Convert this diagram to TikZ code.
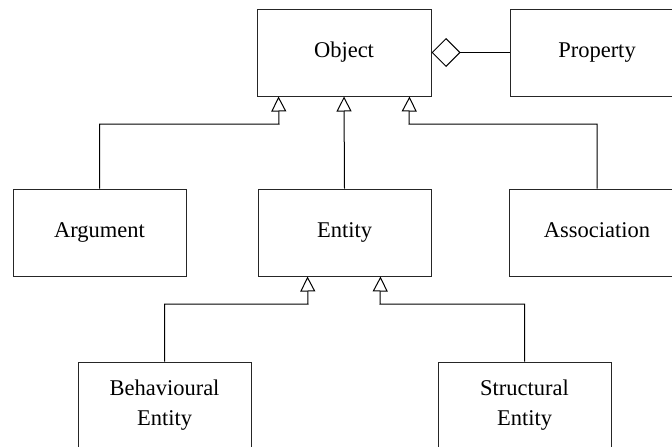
\documentclass[tikz,border=0pt]{standalone}
\usepackage{fontspec}
\setmainfont{Liberation Serif}
\usetikzlibrary{arrows.meta}
\begin{document}
\begin{tikzpicture}[x=1pt,y=-1pt,
  box/.style={draw=black!85,line width=1pt,rectangle,minimum height=87pt,inner sep=0pt,
    align=center,font=\fontsize{22.5}{30}\selectfont},
  onebox/.style={box,text height=15pt,text depth=5pt},
  gen/.style={line width=1pt,-{Triangle[open,length=15pt,width=15pt,line width=1pt]}},
  agg/.style={line width=1pt,{Diamond[open,length=29pt,width=29pt,line width=1pt]}-}]
\useasboundingbox (0,0) rectangle (672,447);
\fill[white] (0,0) rectangle (672,447);
\clip (0,0) rectangle (672,447);
\node[onebox,minimum width=174pt] (obj) at (344,52.5) {Object};
\node[onebox,minimum width=174pt] (prop) at (597,52.5) {Property};
\node[onebox,minimum width=173pt] (arg) at (99.5,232.5) {Argument};
\node[onebox,minimum width=173pt] (ent) at (344.5,232.5) {Entity};
\node[onebox,minimum width=176pt] (assoc) at (597,232.5) {Association};
\node[box,minimum width=173pt] (beh) at (164.5,405.5) {Behavioural\\Entity};
\node[box,minimum width=173pt] (str) at (524.5,405.5) {Structural\\Entity};
\coordinate (a1) at (279,124);
\coordinate (a2) at (409,124);
\coordinate (b1) at (308,304);
\coordinate (b2) at (380,304);
\draw[agg] (obj.east) -- (prop.west);
\draw[gen] (arg.north) |- (a1) -- ([xshift=22pt]obj.south west);
\draw[gen] (ent.north) -- (obj.south);
\draw[gen] (assoc.north) |- (a2) -- ([xshift=-22pt]obj.south east);
\draw[gen] (beh.north) |- (b1) -- ([xshift=50pt]ent.south west);
\draw[gen] (str.north) |- (b2) -- ([xshift=-51pt]ent.south east);
\end{tikzpicture}
\end{document}
